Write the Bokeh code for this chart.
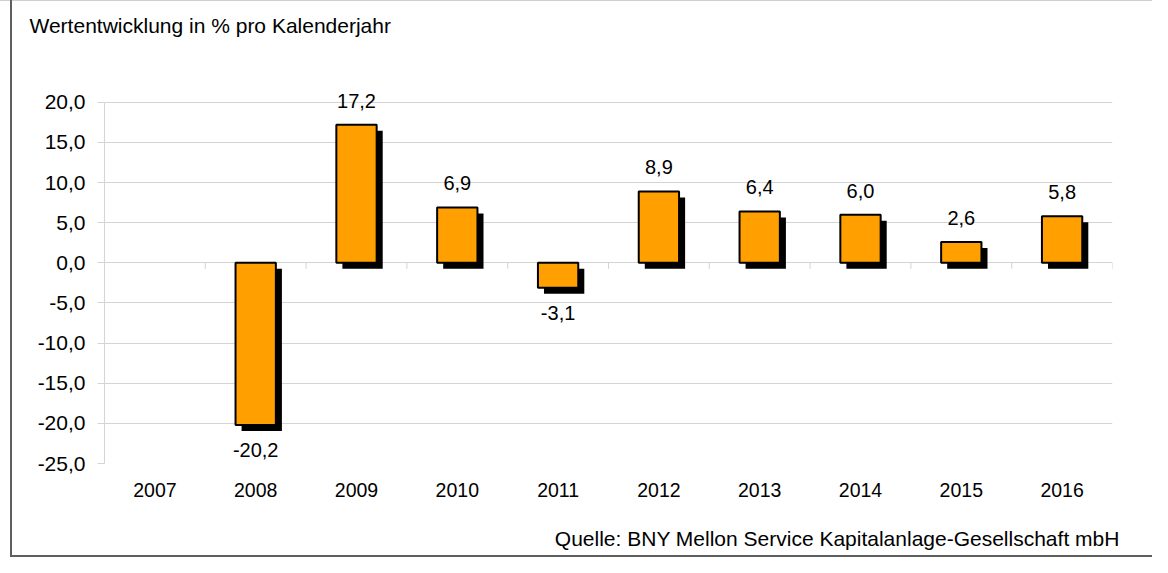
import math
from bokeh.plotting import figure
from bokeh.models import ColumnDataSource, FixedTicker, Range1d, Title, LinearAxis
from bokeh.core.properties import value
from bokeh.embed import file_html
from bokeh.resources import INLINE

# ---- data ----
years = ["2007", "2008", "2009", "2010", "2011", "2012", "2013", "2014", "2015", "2016"]
returns = [float("nan"), -20.2, 17.2, 6.9, -3.1, 8.9, 6.4, 6.0, 2.6, 5.8]
y_ticks = [-25, -20, -15, -10, -5, 0, 5, 10, 15, 20]
y_tick_labels = ["-25,0", "-20,0", "-15,0", "-10,0", "-5,0", "0,0", "5,0", "10,0", "15,0", "20,0"]
title_text = "Wertentwicklung in % pro Kalenderjahr"
source_text = "Quelle: BNY Mellon Service Kapitalanlage-Gesellschaft mbH"

# ---- style / layout ----
FONT = "Liberation Sans"
ORANGE = "#FFA000"
GRID = "#D4D4D4"
BAR_W = 0.40
SHADOW_DX = 0.06
SHADOW_DY = 0.75
TICK_LEN = 0.75
Y_TOP = 28.2          # headroom above the last tick (space for the title)
SOURCE_ANCHOR = 6.77  # horizontal anchor of the source note (category units)

idx = [i for i, v in enumerate(returns) if not math.isnan(v)]
vals = [returns[i] for i in idx]
fmt = lambda v: f"{v:.1f}".replace(".", ",")
src = ColumnDataSource(dict(
    x=idx,
    top=vals,
    bottom=[0.0] * len(vals),
    sx=[i + SHADOW_DX for i in idx],
    stop=[v - SHADOW_DY for v in vals],
    sbottom=[-SHADOW_DY] * len(vals),
))
pos = ColumnDataSource(dict(
    x=[i for i, v in zip(idx, vals) if v >= 0],
    y=[v for v in vals if v >= 0],
    t=[fmt(v) for v in vals if v >= 0],
))
neg = ColumnDataSource(dict(
    x=[i for i, v in zip(idx, vals) if v < 0],
    y=[v for v in vals if v < 0],
    t=[fmt(v) for v in vals if v < 0],
))

frame_style = ("linear-gradient(#5F5F5F,#5F5F5F) 10px 0/2px 100% no-repeat, "
               "linear-gradient(#5F5F5F,#5F5F5F) 10px 100%/100% 2px no-repeat, "
               "linear-gradient(#CFCFCF,#CFCFCF) 0 0/100% 1px no-repeat, #FFFFFF")

p = figure(width=1152, height=557, output_backend="svg", toolbar_location=None,
           x_range=Range1d(-0.5, len(years) - 0.5), y_range=Range1d(y_ticks[0], Y_TOP),
           min_border_left=104, min_border_right=40, min_border_top=36, min_border_bottom=94,
           styles={"background": frame_style})
p.outline_line_color = None
p.background_fill_color = "white"
p.border_fill_color = None

p.xgrid.visible = False
p.ygrid.ticker = FixedTicker(ticks=y_ticks)
p.ygrid.grid_line_color = GRID

ya = p.yaxis[0]
ya.ticker = FixedTicker(ticks=y_ticks)
ya.major_label_overrides = {t: l for t, l in zip(y_ticks, y_tick_labels)}
ya.bounds = (y_ticks[0], y_ticks[-1])
ya.axis_line_color = GRID
ya.major_tick_line_color = GRID
ya.major_tick_out = 7
ya.major_tick_in = 0
ya.minor_tick_line_color = None
ya.major_label_standoff = 12
ya.major_label_text_font = FONT
ya.major_label_text_font_size = "21px"
ya.major_label_text_color = "black"

xa = p.xaxis[0]
xa.ticker = FixedTicker(ticks=list(range(len(years))))
xa.major_label_overrides = {i: y for i, y in enumerate(years)}
xa.axis_line_color = None
xa.major_tick_line_color = None
xa.minor_tick_line_color = None
xa.major_tick_out = 0
xa.major_label_standoff = 19
xa.major_label_text_font = FONT
xa.major_label_text_font_size = "19.5px"
xa.major_label_text_color = "black"

# source note as a second, label-only axis under the year axis
sa = LinearAxis(ticker=FixedTicker(ticks=[SOURCE_ANCHOR]),
                major_label_overrides={SOURCE_ANCHOR: source_text},
                axis_line_color=None, major_tick_line_color=None, minor_tick_line_color=None,
                major_tick_out=0, major_tick_in=0, major_label_standoff=27,
                major_label_text_font=FONT, major_label_text_font_size="21px",
                major_label_text_color="black")
p.add_layout(sa, "below")

# category-boundary ticks on the zero line
bx = [i - 0.5 for i in range(len(years) + 1)]
p.segment(x0=bx, y0=[0] * len(bx), x1=bx, y1=[-TICK_LEN] * len(bx), line_color=GRID, line_width=1)

# shadows and bars
p.vbar(x="sx", top="stop", bottom="sbottom", width=BAR_W, source=src,
       fill_color="black", line_color=None)
p.vbar(x="x", top="top", bottom="bottom", width=BAR_W, source=src,
       fill_color=ORANGE, line_color="black", line_width=2)

p.text(x="x", y="y", text="t", source=pos, text_align="center", text_baseline="bottom",
       y_offset=-17, text_font=value(FONT), text_font_size="20px", text_color="black")
p.text(x="x", y="y", text="t", source=neg, text_align="center", text_baseline="top",
       y_offset=18, text_font=value(FONT), text_font_size="20px", text_color="black")

p.add_layout(Title(text=title_text, align="left", offset=-75, standoff=0,
                   text_font=FONT, text_font_size="21px", text_font_style="normal",
                   text_color="black"), "above")

open("out.html", "w").write(file_html(p, INLINE))
